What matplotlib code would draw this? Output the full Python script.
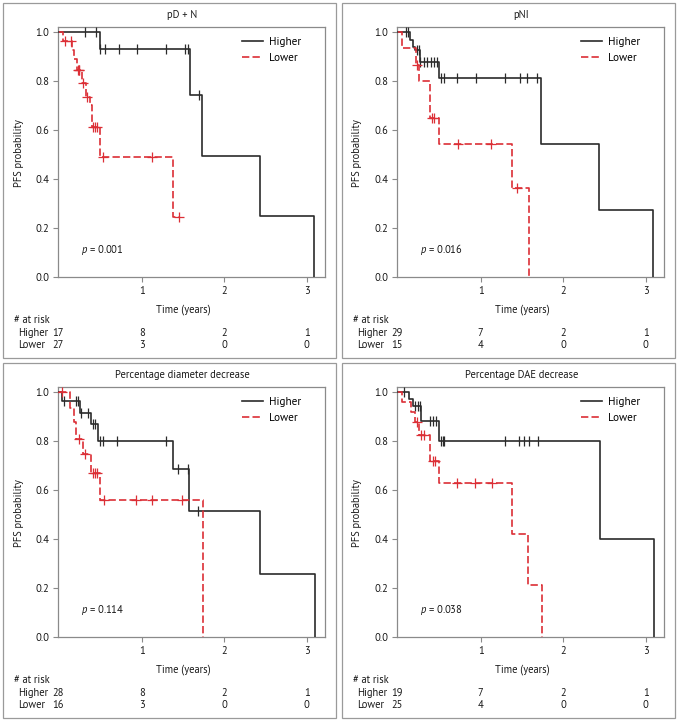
import numpy as np
import matplotlib
matplotlib.use("Agg")
import matplotlib.pyplot as plt
from matplotlib.patches import Rectangle
from matplotlib.transforms import blended_transform_factory

FONTS = ['PT Sans', 'Liberation Sans', 'DejaVu Sans']
plt.rcParams['font.family'] = FONTS
plt.rcParams['font.sans-serif'] = FONTS
plt.rcParams['mathtext.fontset'] = 'custom'
plt.rcParams['mathtext.it'] = 'sans:italic'
plt.rcParams['mathtext.rm'] = 'sans'

# ---------------- data ----------------
titles = ["pD + N", "pNI", "Percentage diameter decrease", "Percentage DAE decrease"]
p_values = ["0.001", "0.016", "0.114", "0.038"]
group_names = ["Higher", "Lower"]
risk_times = [0, 1, 2, 3]

# Panel 1: pD + N
p1_hi_t = [0, 0.49, 1.585, 1.735, 2.43, 3.09]
p1_hi_s = [1.0, 0.929, 0.743, 0.495, 0.248, 0.0]
p1_hi_c = [0.31, 0.45, 0.50, 0.56, 0.72, 0.94, 1.30, 1.53, 1.565, 1.69]
p1_lo_t = [0, 0.05, 0.15, 0.18, 0.22, 0.28, 0.32, 0.37, 0.40, 0.495, 1.38, 1.45]
p1_lo_s = [1.0, 0.963, 0.926, 0.89, 0.845, 0.79, 0.735, 0.70, 0.612, 0.49, 0.245, 0.245]
p1_lo_c = [0.07, 0.14, 0.23, 0.235, 0.24, 0.29, 0.34, 0.41, 0.43, 0.46, 0.535, 1.13, 1.45]
p1_risk_hi = [17, 8, 2, 1]
p1_risk_lo = [27, 3, 0, 0]

# Panel 2: pNI
p2_hi_t = [0, 0.14, 0.18, 0.21, 0.26, 0.495, 1.735, 2.43, 3.09]
p2_hi_s = [1.0, 0.966, 0.94, 0.925, 0.877, 0.814, 0.542, 0.272, 0.0]
p2_hi_c = [0.09, 0.12, 0.23, 0.25, 0.27, 0.315, 0.35, 0.395, 0.435, 0.47,
           0.515, 0.55, 0.716, 0.94, 1.30, 1.47, 1.565, 1.686]
p2_lo_t = [0, 0.05, 0.22, 0.25, 0.385, 0.495, 1.38, 1.58]
p2_lo_s = [1.0, 0.933, 0.867, 0.80, 0.65, 0.542, 0.361, 0.0]
p2_lo_c = [0.23, 0.41, 0.43, 0.72, 1.13, 1.44]
p2_risk_hi = [29, 7, 2, 1]
p2_risk_lo = [15, 4, 0, 0]

# Panel 3: Percentage diameter decrease
p3_hi_t = [0, 0.04, 0.25, 0.38, 0.475, 1.383, 1.577, 2.43, 3.10]
p3_hi_s = [1.0, 0.963, 0.916, 0.87, 0.80, 0.685, 0.512, 0.257, 0.0]
p3_hi_c = [0.06, 0.21, 0.23, 0.27, 0.35, 0.41, 0.43, 0.495, 0.535, 0.70,
           1.29, 1.445, 1.565, 1.686]
p3_lo_t = [0, 0.13, 0.18, 0.20, 0.285, 0.38, 0.495, 1.74]
p3_lo_s = [1.0, 0.936, 0.877, 0.81, 0.745, 0.67, 0.557, 0.0]
p3_lo_c = [0.03, 0.24, 0.31, 0.41, 0.43, 0.455, 0.54, 0.93, 1.13, 1.49]
p3_risk_hi = [28, 8, 2, 1]
p3_risk_lo = [16, 3, 0, 0]

# Panel 4: Percentage DAE decrease
p4_hi_t = [0, 0.13, 0.18, 0.28, 0.49, 2.44, 3.10]
p4_hi_s = [1.0, 0.973, 0.943, 0.88, 0.80, 0.401, 0.0]
p4_hi_c = [0.07, 0.21, 0.24, 0.26, 0.38, 0.42, 0.46, 0.515, 0.545, 0.56,
           1.30, 1.46, 1.53, 1.58, 1.69]
p4_lo_t = [0, 0.05, 0.15, 0.21, 0.25, 0.385, 0.49, 1.38, 1.577, 1.745]
p4_lo_s = [1.0, 0.958, 0.917, 0.877, 0.826, 0.72, 0.63, 0.42, 0.21, 0.0]
p4_lo_c = [0.23, 0.28, 0.31, 0.425, 0.45, 0.716, 0.93, 1.14]
p4_risk_hi = [19, 7, 2, 1]
p4_risk_lo = [25, 4, 0, 0]

panels = [
    (p1_hi_t, p1_hi_s, p1_hi_c, p1_lo_t, p1_lo_s, p1_lo_c, p1_risk_hi, p1_risk_lo),
    (p2_hi_t, p2_hi_s, p2_hi_c, p2_lo_t, p2_lo_s, p2_lo_c, p2_risk_hi, p2_risk_lo),
    (p3_hi_t, p3_hi_s, p3_hi_c, p3_lo_t, p3_lo_s, p3_lo_c, p3_risk_hi, p3_risk_lo),
    (p4_hi_t, p4_hi_s, p4_hi_c, p4_lo_t, p4_lo_s, p4_lo_c, p4_risk_hi, p4_risk_lo),
]

# ---------------- styling ----------------
W, H = 679, 720
fig = plt.figure(figsize=(W / 100, H / 100), dpi=100)
BLACK = "#2b2b2b"
RED = "#dc2f36"
GRAY = "#8a8a8a"
TXT = "#1a1a1a"
FS = 7.6


def fx(px):
    return px / W


def fy(py):
    return 1 - py / H


def surv_at(t, s, c):
    t = np.asarray(t)
    s = np.asarray(s)
    idx = np.searchsorted(t, np.asarray(c), side="right") - 1
    return s[idx]


offsets = [(0, 0), (339, 0), (0, 360), (339, 360)]

for i, (ox, oy) in enumerate(offsets):
    hi_t, hi_s, hi_c, lo_t, lo_s, lo_c, r_hi, r_lo = panels[i]

    # panel border
    fig.add_artist(Rectangle((fx(ox + 3), fy(oy + 358)), 333 / W, 355 / H,
                             transform=fig.transFigure, fill=False,
                             edgecolor="#9a9a9a", linewidth=0.9))

    ax_left, ax_right = ox + 58.3, ox + 325
    ax_top, ax_bot = oy + 26.7, oy + 276.7
    ax = fig.add_axes([fx(ax_left), fy(ax_bot), (ax_right - ax_left) / W,
                       (ax_bot - ax_top) / H])
    ax.set_xlim(-0.01, 3.22)
    ax.set_ylim(0, 1.022)

    ax.step(hi_t, hi_s, where="post", color=BLACK, lw=1.2, label=group_names[0],
            zorder=3)
    ax.step(lo_t, lo_s, where="post", color=RED, lw=1.2, ls=(0, (4.4, 1.9)),
            label=group_names[1], zorder=4)
    ax.plot(hi_c, surv_at(hi_t, hi_s, hi_c), ls="none", marker="|", ms=6.5,
            mew=0.9, color=BLACK, zorder=3)
    ax.plot(lo_c, surv_at(lo_t, lo_s, lo_c), ls="none", marker="+", ms=6.5,
            mew=0.9, color=RED, zorder=4)

    ax.set_xticks([1, 2, 3])
    ax.set_yticks(np.arange(0, 1.01, 0.2))
    ax.set_yticklabels([f"{v:.1f}" for v in np.arange(0, 1.01, 0.2)])
    ax.tick_params(direction="out", length=3.5, width=0.8, color=GRAY,
                   labelsize=FS, pad=3, labelcolor=TXT)
    for sp in ax.spines.values():
        sp.set_color(GRAY)
        sp.set_linewidth(0.9)

    ax.text(0.27, 0.11, r"$p$ = " + p_values[i], fontsize=FS,
            va="center", ha="left", color=TXT)

    ax.legend(loc="upper left", bbox_to_anchor=(0.688, 0.958), frameon=False,
              fontsize=FS + 0.4, handlelength=1.9, handletextpad=0.55,
              borderpad=0, borderaxespad=0, labelspacing=0.5)

    # title, labels
    fig.text(fx(ox + 182.5), fy(oy + 15), titles[i], ha="center", va="center",
             fontsize=FS, color=TXT)
    fig.text(fx(ox + 18.5), fy(oy + 153), "PFS probability", rotation=90,
             ha="center", va="center", fontsize=FS, color=TXT)
    fig.text(fx(ox + 183), fy(oy + 310), "Time (years)", ha="center",
             va="center", fontsize=FS, color=TXT)

    # at-risk table
    fig.text(fx(ox + 14), fy(oy + 320), "# at risk", ha="left", va="center",
             fontsize=FS, color=TXT)
    fig.text(fx(ox + 18.3), fy(oy + 332.5), group_names[0], ha="left",
             va="center", fontsize=FS, color=TXT)
    fig.text(fx(ox + 18.3), fy(oy + 345), group_names[1], ha="left",
             va="center", fontsize=FS, color=TXT)
    trans = blended_transform_factory(ax.transData, fig.transFigure)
    for t, nh, nl in zip(risk_times, r_hi, r_lo):
        xx = t if t > 0 else -0.01
        fig.text(xx, fy(oy + 332.5), str(nh), ha="center", va="center",
                 fontsize=FS, color=TXT, transform=trans)
        fig.text(xx, fy(oy + 345), str(nl), ha="center", va="center",
                 fontsize=FS, color=TXT, transform=trans)

fig.savefig("out.png", dpi=100)
